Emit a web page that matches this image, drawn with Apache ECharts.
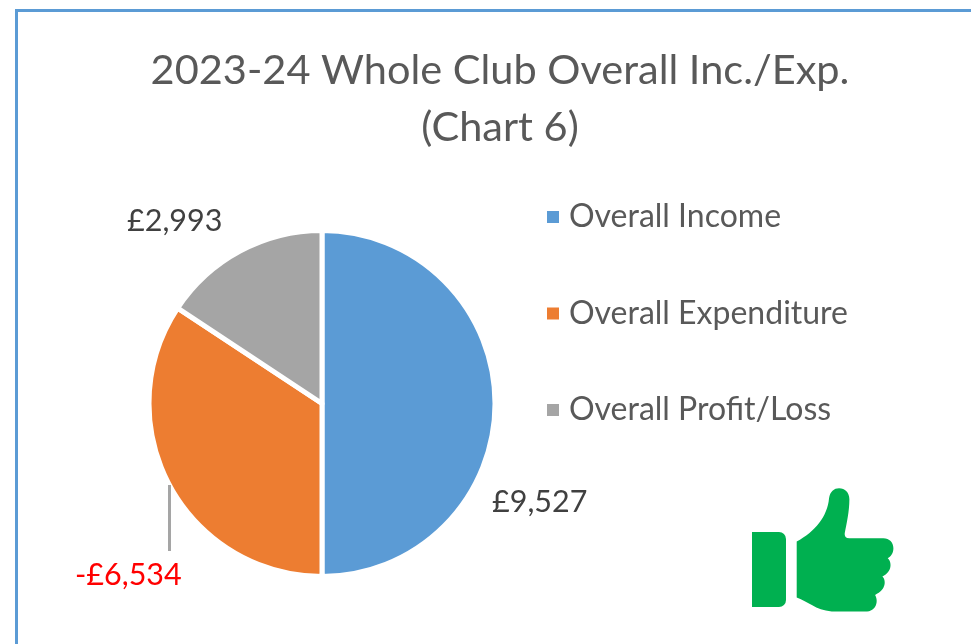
<!DOCTYPE html>
<html><head><meta charset="utf-8">
<style>html,body{margin:0;padding:0;background:#fff}#c{width:971px;height:644px}</style>
<script src="https://cdn.jsdelivr.net/npm/echarts@6/dist/echarts.min.js"></script>
</head><body><div id="c"></div>
<script>
const categories = ['Overall Income', 'Overall Expenditure', 'Overall Profit/Loss'];
const values = [9527, 6534, 2993];
const labels = ['£9,527', '-£6,534', '£2,993'];
const colors = ['#5B9BD5', '#ED7D31', '#A5A5A5'];
const labelColors = ['#404040', '#FF0000', '#404040'];
const labelXY = [[492, 502], [75, 575], [127, 221]];
const FONT = 'Lato, "Open Sans", sans-serif';
const THUMB = 'M230 215 C285 185 322 140 327 85 C330 65 342 55 357 55 C375 55 388 68 388 88 C388 125 380 160 374 190 Q372 205 388 205 L490 205 C508 205 520 218 520 235 C520 250 512 260 503 265 C515 275 518 305 487 320 C498 330 500 360 465 375 C475 390 472 425 435 425 L335 425 C285 420 265 395 230 383 Z';
const chart = echarts.init(document.getElementById('c'), null, {renderer: 'canvas'});
chart.setOption({
  animation: false,
  backgroundColor: '#fff',
  title: {
    text: '2023-24 Whole Club Overall Inc./Exp.\n(Chart 6)',
    left: 495, top: 37, textAlign: 'center',
    textStyle: {fontFamily: FONT, fontSize: 41.5, fontWeight: 'normal', color: '#595959', lineHeight: 57}
  },
  legend: {
    orient: 'vertical', left: 545, top: 201, padding: 0, itemGap: 64.5, itemWidth: 14, itemHeight: 14,
    icon: 'rect', data: categories,
    textStyle: {fontFamily: FONT, fontSize: 32, color: '#595959', padding: [0, 0, 0, 4]}
  },
  series: [{
    type: 'pie', center: [322, 403.5], radius: [0, 173], startAngle: 90, clockwise: true,
    data: categories.map((n, i) => ({
      name: n, value: values[i],
      itemStyle: {color: colors[i]},
      label: {color: labelColors[i]}
    })),
    itemStyle: {borderColor: '#fff', borderWidth: 5},
    label: {
      show: true, position: 'outside', fontFamily: FONT, fontSize: 30.5,
      formatter: p => labels[p.dataIndex]
    },
    labelLine: {show: false},
    labelLayout: p => ({x: labelXY[p.dataIndex][0], y: labelXY[p.dataIndex][1], align: 'left', verticalAlign: 'middle'})
  }, {
    type: 'custom', coordinateSystem: 'none', silent: true, data: [[0]],
    renderItem: () => ({
      type: 'path',
      shape: {pathData: THUMB, x: 796.7, y: 488.3, width: 96.7, height: 123.3, layout: 'cover'},
      style: {fill: '#00B050'}
    })
  }],
  graphic: [
    {type: 'line', shape: {x1: 16.5, y1: 644, x2: 16.5, y2: 10.5}, style: {stroke: '#5B9BD5', lineWidth: 3}, silent: true},
    {type: 'line', shape: {x1: 15, y1: 10.5, x2: 971, y2: 10.5}, style: {stroke: '#5B9BD5', lineWidth: 3}, silent: true},
    {type: 'line', z: 20, shape: {x1: 169.5, y1: 485, x2: 169.5, y2: 551}, style: {stroke: '#A5A5A5', lineWidth: 3}, silent: true},
    {type: 'rect', shape: {x: 752, y: 532, width: 34, height: 75, r: [0, 7, 7, 0]}, style: {fill: '#00B050'}, silent: true}
  ]
});
</script></body></html>
